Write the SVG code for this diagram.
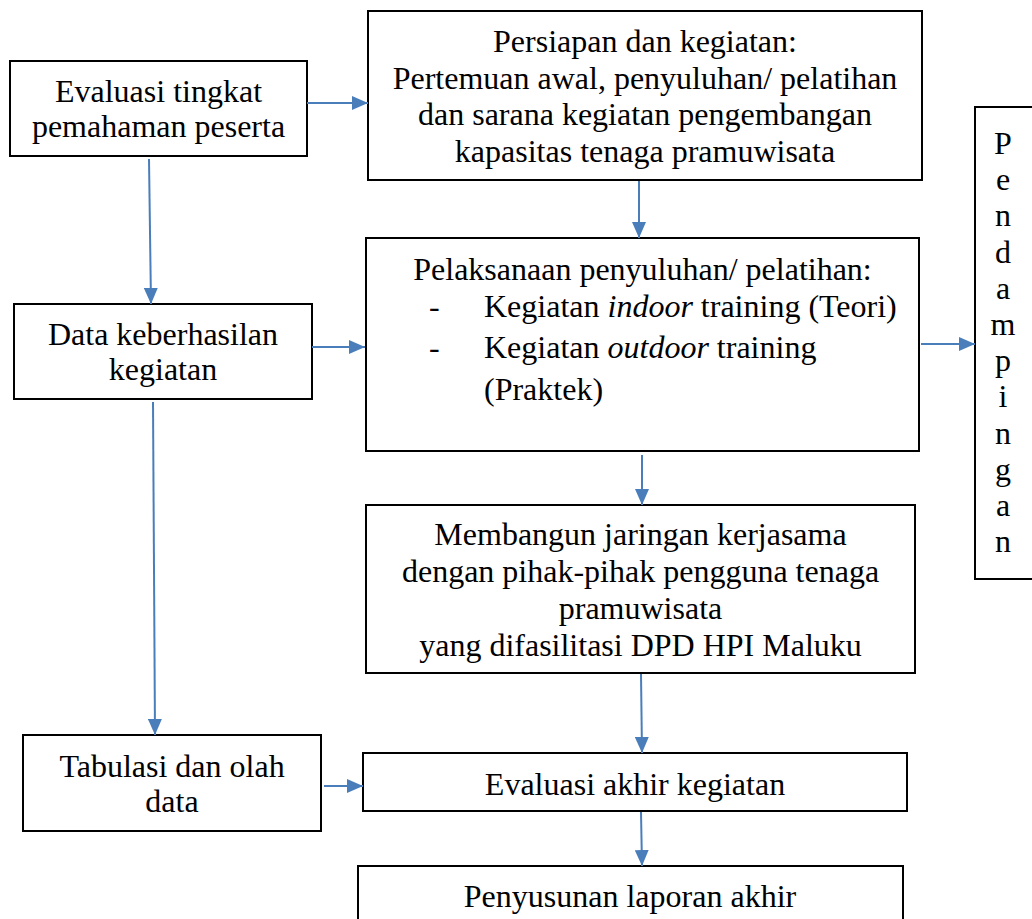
<svg xmlns="http://www.w3.org/2000/svg" width="1032" height="919" viewBox="0 0 1032 919">
<style>
.box{fill:#fff;stroke:#000;stroke-width:2}
.t{font-family:"Liberation Serif","Times New Roman",serif;font-size:32px;fill:#000}
.c{text-anchor:middle}
.conn line{stroke:#4a7ebb;stroke-width:2;fill:none}
</style>
<defs>
<marker id="ah" markerUnits="userSpaceOnUse" markerWidth="16" markerHeight="14" refX="16" refY="7" orient="auto">
<path d="M0,0 L16,7 L0,14 Z" fill="#4a7ebb"/>
</marker>
</defs>
<rect width="1032" height="919" fill="#fff"/>
<g id="n-evaluasi-tingkat">
<rect class="box" x="10" y="61" width="297" height="95"/>
<text class="t c" x="158.5" y="102">Evaluasi tingkat</text>
<text class="t c" x="158.5" y="137">pemahaman peserta</text>
</g>
<g id="n-persiapan">
<rect class="box" x="368" y="11" width="554" height="169"/>
<text class="t c" x="645" y="52">Persiapan dan kegiatan:</text>
<text class="t c" x="645" y="88.5">Pertemuan awal, penyuluhan/ pelatihan</text>
<text class="t c" x="645" y="125">dan sarana kegiatan pengembangan</text>
<text class="t c" x="645" y="161.5">kapasitas tenaga pramuwisata</text>
</g>
<g id="n-data">
<rect class="box" x="14" y="304" width="298" height="95"/>
<text class="t c" x="163" y="345">Data keberhasilan</text>
<text class="t c" x="163" y="380">kegiatan</text>
</g>
<g id="n-pelaksanaan">
<rect class="box" x="366" y="238" width="553" height="213"/>
<text class="t c" x="642.5" y="280">Pelaksanaan penyuluhan/ pelatihan:</text>
<text class="t" x="429" y="317">-</text>
<text class="t" x="484" y="317">Kegiatan <tspan font-style="italic">indoor</tspan> training (Teori)</text>
<text class="t" x="429" y="358">-</text>
<text class="t" x="484" y="358">Kegiatan <tspan font-style="italic">outdoor</tspan> training</text>
<text class="t" x="484" y="400">(Praktek)</text>
</g>
<g id="n-pendampingan">
<rect class="box" x="975" y="107" width="70" height="472"/>
<text class="t c" x="1003" y="154">P</text>
<text class="t c" x="1003" y="190.2">e</text>
<text class="t c" x="1003" y="226.4">n</text>
<text class="t c" x="1003" y="262.6">d</text>
<text class="t c" x="1003" y="298.8">a</text>
<text class="t c" x="1003" y="335">m</text>
<text class="t c" x="1003" y="371.2">p</text>
<text class="t c" x="1003" y="407.4">i</text>
<text class="t c" x="1003" y="443.6">n</text>
<text class="t c" x="1003" y="479.8">g</text>
<text class="t c" x="1003" y="516">a</text>
<text class="t c" x="1003" y="552.2">n</text>
</g>
<g id="n-membangun">
<rect class="box" x="366" y="505" width="549" height="168"/>
<text class="t c" x="640.5" y="545">Membangun jaringan kerjasama</text>
<text class="t c" x="640.5" y="582">dengan pihak-pihak pengguna tenaga</text>
<text class="t c" x="640.5" y="619">pramuwisata</text>
<text class="t c" x="640.5" y="656">yang difasilitasi DPD HPI Maluku</text>
</g>
<g id="n-tabulasi">
<rect class="box" x="23" y="735" width="298" height="96"/>
<text class="t c" x="172" y="777">Tabulasi dan olah</text>
<text class="t c" x="172" y="812">data</text>
</g>
<g id="n-evaluasi-akhir">
<rect class="box" x="363" y="753" width="544" height="58"/>
<text class="t c" x="635" y="795">Evaluasi akhir kegiatan</text>
</g>
<g id="n-penyusunan">
<rect class="box" x="358" y="866" width="545" height="70"/>
<text class="t c" x="630" y="907">Penyusunan laporan akhir</text>
</g>
<g id="connectors" class="conn">
<line x1="307" y1="103" x2="368" y2="103" marker-end="url(#ah)"/>
<line x1="639" y1="181" x2="639" y2="238" marker-end="url(#ah)"/>
<line x1="149" y1="159" x2="151" y2="304" marker-end="url(#ah)"/>
<line x1="312" y1="347" x2="365" y2="347" marker-end="url(#ah)"/>
<line x1="921" y1="344" x2="975" y2="344" marker-end="url(#ah)"/>
<line x1="153" y1="402" x2="155" y2="735" marker-end="url(#ah)"/>
<line x1="642" y1="455" x2="642" y2="505" marker-end="url(#ah)"/>
<line x1="324" y1="786" x2="363" y2="786" marker-end="url(#ah)"/>
<line x1="641" y1="674" x2="642" y2="753" marker-end="url(#ah)"/>
<line x1="641" y1="812" x2="642" y2="866" marker-end="url(#ah)"/>
</g>
</svg>
